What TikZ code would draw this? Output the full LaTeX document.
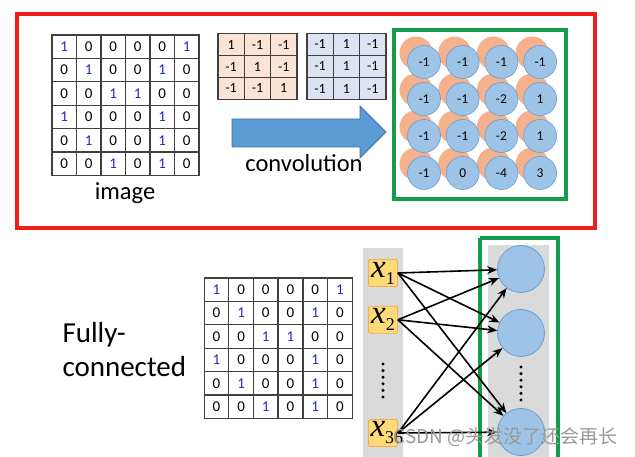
\documentclass[tikz,border=0pt]{standalone}
\usepackage{fontspec}
\setmainfont{Carlito}
\newfontfamily\varfont{Liberation Serif}
\newfontfamily\cjkfont{Noto Sans CJK SC}
\usepackage{xcolor}
\usepackage{tikz}
\usetikzlibrary{arrows.meta,positioning}
\definecolor{framered}{RGB}{240,30,25}
\definecolor{framegreen}{RGB}{20,155,75}
\definecolor{onesblue}{RGB}{40,40,200}
\definecolor{kernelorange}{RGB}{251,228,213}
\definecolor{kernelblue}{RGB}{221,227,242}
\definecolor{arrowblue}{RGB}{91,155,213}
\definecolor{featorange}{RGB}{244,177,140}
\definecolor{featblue}{RGB}{157,195,230}
\definecolor{featedge}{RGB}{110,155,210}
\definecolor{layergray}{RGB}{218,218,218}
\definecolor{inputyellow}{RGB}{255,218,120}
\definecolor{inputedge}{RGB}{240,175,80}
\newcommand{\inputvar}[1]{{\itshape x}\raisebox{-7pt}{\fontsize{18}{18}\selectfont #1}}
\tikzset{
  imgcell/.style={
    rectangle,
    draw=black!75,
    line width=1.2pt,
    minimum width=24.5pt,
    minimum height=23.4pt,
    inner sep=0pt,
    font=\fontsize{15}{15}\selectfont
  },
  kercell/.style={
    rectangle,
    draw=black!75,
    line width=1.2pt,
    minimum width=26.3pt,
    minimum height=22pt,
    inner sep=0pt,
    font=\fontsize{14}{14}\selectfont
  },
  featcircle/.style={
    circle,
    minimum size=33pt,
    inner sep=0pt,
    font=\fontsize{13.5}{13.5}\selectfont
  },
  inputbox/.style={
    rectangle,
    rounded corners=1.5pt,
    fill=inputyellow,
    draw=inputedge,
    line width=0.8pt,
    minimum width=29pt,
    minimum height=27pt,
    inner sep=0pt,
    font=\varfont\fontsize{33}{33}\selectfont
  },
  neuron/.style={
    circle,
    fill=featblue,
    draw=featedge,
    line width=0.8pt,
    minimum size=47pt,
    inner sep=0pt
  },
  bigarrow/.style={
    fill=arrowblue,
    draw=arrowblue!75!black,
    line width=0.8pt
  },
  fcarrow/.style={
    -{Stealth[length=10pt,width=8pt]},
    line width=1.6pt,
    draw=black
  },
  framebox/.style={
    line width=4pt
  },
  biglabel/.style={
    font=\fontsize{24.5}{24.5}\selectfont
  }
}

\begin{document}
\begin{tikzpicture}[x=1pt,y=-1pt]
\useasboundingbox[fill=white] (0,0) rectangle (635,457);

% convolution part
\draw[framebox, draw=framered] (17,14) rectangle (595,228);
\foreach \row [count=\r] in {{1,0,0,0,0,1},{0,1,0,0,1,0},{0,0,1,1,0,0},{1,0,0,0,1,0},{0,1,0,0,1,0},{0,0,1,0,1,0}} {
  \foreach \v [count=\c] in \row {
    \node[imgcell] (img-\r-\c) at ({52+(\c-0.5)*24.5},{35+(\r-0.5)*23.4}) {\ifnum\v=1 \color{onesblue}\fi\v};
  }
}
\coordinate (imgbottom) at (125,177);
\node[biglabel, below=2pt of imgbottom] (imglabel) {image};

\foreach \row [count=\r] in {{1,-1,-1},{-1,1,-1},{-1,-1,1}} {
  \foreach \v [count=\c] in \row {
    \node[kercell, fill=kernelorange] (kera-\r-\c) at ({218+(\c-0.5)*26.3},{34+(\r-0.5)*21.7}) {\v};
  }
}
\foreach \row [count=\r] in {{-1,1,-1},{-1,1,-1},{-1,1,-1}} {
  \foreach \v [count=\c] in \row {
    \node[kercell, fill=kernelblue] (kerb-\r-\c) at ({307+(\c-0.5)*26.3},{33+(\r-0.5)*22.3}) {\v};
  }
}

\draw[bigarrow] (232,119) -- (360,119) -- (360,106) -- (386,132) -- (360,158) -- (360,147) -- (232,147) -- cycle;
\node[biglabel] (convlabel) at (304,163) {convolution};

\draw[framebox, draw=framegreen] (394,30) rectangle (566,199);
\foreach \r in {1,...,4} {
  \foreach \c in {1,...,4} {
    \node[featcircle, fill=featorange] (fa-\r-\c) at ({416+(\c-1)*38.7},{53+(\r-1)*37}) {};
  }
}
\foreach \row [count=\r] in {{-1,-1,-1,-1},{-1,-1,-2,1},{-1,-1,-2,1},{-1,0,-4,3}} {
  \foreach \v [count=\c] in \row {
    \node[featcircle, fill=featblue, draw=featedge, line width=0.6pt] (fb-\r-\c) at ({424+(\c-1)*38.7},{62+(\r-1)*37}) {\v};
  }
}

% fully-connected part
\node[anchor=west, align=left, font=\fontsize{29}{34}\selectfont] (fclabel) at (59,350) {Fully-\\connected};
\foreach \row [count=\r] in {{1,0,0,0,0,1},{0,1,0,0,1,0},{0,0,1,1,0,0},{1,0,0,0,1,0},{0,1,0,0,1,0},{0,0,1,0,1,0}} {
  \foreach \v [count=\c] in \row {
    \node[imgcell] (flat-\r-\c) at ({204+(\c-0.5)*24.7},{278+(\r-0.5)*23.4}) {\ifnum\v=1 \color{onesblue}\fi\v};
  }
}

\fill[layergray] (363,248) rectangle (403,470);
\node[inputbox] (x1) at (383,273) {\inputvar{1}};
\node[inputbox, below=19pt of x1] (x2) {\inputvar{2}};
\node[inputbox, text width=29pt] (x36) at (383,433) {\hspace*{2pt}\inputvar{36}};
\foreach \k in {0,...,5}
  \fill (383,{364+\k*6.6}) circle (1.7pt);

\draw[framebox, draw=framegreen] (480,238) -- (480,470);
\draw[framebox, draw=framegreen] (480,238) -- (558,238) -- (558,470);
\fill[layergray] (488,245) rectangle (549,470);
\node[neuron] (n1) at (521,269) {};
\node[neuron] (n2) at (521,333) {};
\node[neuron] (n3) at (521,432) {};
\foreach \k in {0,...,5}
  \fill (521,{367+\k*6.6}) circle (1.7pt);

\foreach \src in {x1,x2,x36}
  \foreach \dst in {n1,n2,n3}
    \draw[fcarrow] (\src.east) -- (\dst);

\node[anchor=west, text=black!40, font=\cjkfont\fontsize{19}{19}\selectfont] (mark) at (390,437) {CSDN @头发没了还会再长};
\end{tikzpicture}
\end{document}
